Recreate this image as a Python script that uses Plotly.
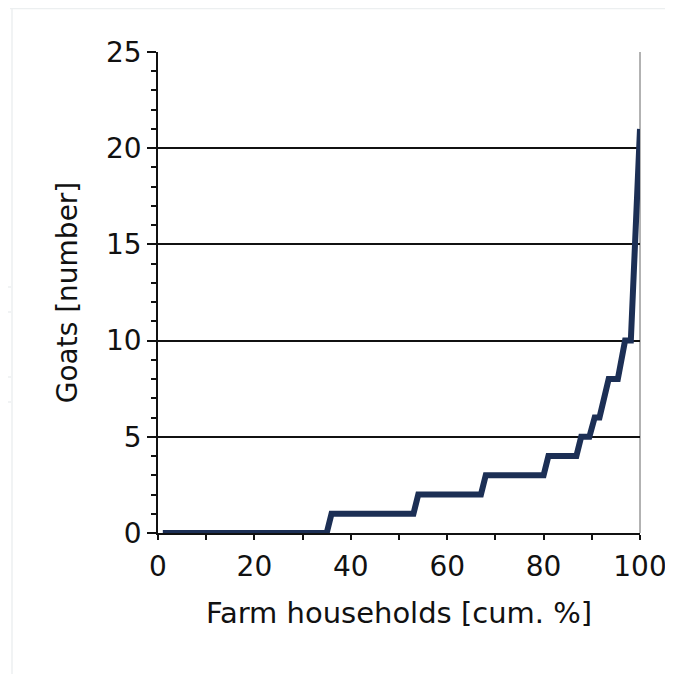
import plotly.graph_objects as go

households_cum_pct = [1, 35, 36, 53, 54, 67, 68, 80, 81, 86.8, 87.8, 89.5, 90.6, 91.6, 93.5, 95.4, 96.9, 98.1, 100]
goats = [0, 0, 1, 1, 2, 2, 3, 3, 4, 4, 5, 5, 6, 6, 8, 8, 10, 10, 21]

W, H = 673, 674
L, T = 150, 44
pw, ph = 482, 481
R, B = W - L - pw, H - T - ph

def px(p):
    return (p - L) / pw

def py(p):
    return 1 - (p - T) / ph

fig = go.Figure()
fig.add_trace(go.Scatter(
    x=households_cum_pct, y=goats, mode="lines",
    line=dict(color="#1c2f55", width=6),
    hoverinfo="x+y", showlegend=False,
))

font = "DejaVu Sans, Verdana, sans-serif"
shapes = []
bg = "#eceff0"
shapes.append(dict(type="line", xref="paper", yref="paper", x0=px(2), x1=px(673), y0=py(0.5), y1=py(0.5), line=dict(color=bg, width=1.5)))
shapes.append(dict(type="line", xref="paper", yref="paper", x0=px(4), x1=px(4), y0=py(0), y1=py(674), line=dict(color=bg, width=1.5)))
shapes.append(dict(type="line", xref="paper", yref="paper", x0=px(660), x1=px(660), y0=py(0), y1=py(674), line=dict(color=bg, width=1.5)))
for yy in [279, 304, 369, 394]:
    shapes.append(dict(type="line", xref="paper", yref="paper", x0=px(0), x1=px(3), y0=py(yy), y1=py(yy), line=dict(color=bg, width=1.5)))
# right frame line
shapes.append(dict(type="line", xref="paper", yref="paper", x0=1, x1=1, y0=0, y1=1, line=dict(color="#666666", width=1), layer="below"))

fig.update_layout(
    width=W, height=H,
    margin=dict(l=L, r=R, t=T, b=B),
    paper_bgcolor="white", plot_bgcolor="white",
    font=dict(family=font, size=28, color="#111111"),
    shapes=shapes,
    xaxis=dict(
        range=[0, 100], dtick=20, tick0=0,
        ticks="outside", ticklen=5, tickwidth=1.5, tickcolor="#111111",
        minor=dict(dtick=10, ticks="outside", ticklen=5, tickwidth=1.5, tickcolor="#111111", showgrid=False),
        showline=True, linecolor="#111111", linewidth=1.5,
        showgrid=False, zeroline=False,
        tickfont=dict(size=28), ticklabelstandoff=3,
        title=dict(text="Farm households [cum. %]", font=dict(size=29), standoff=20),
    ),
    yaxis=dict(
        range=[0, 25], dtick=5, tick0=0,
        ticks="outside", ticklen=9, tickwidth=1.5, tickcolor="#111111",
        minor=dict(dtick=1, ticks="outside", ticklen=5, tickwidth=1.5, tickcolor="#111111", showgrid=False),
        showline=True, linecolor="#111111", linewidth=1.5,
        showgrid=True, gridcolor="#111111", gridwidth=1.5, zeroline=False,
        tickfont=dict(size=28),
        title=dict(text="Goats [number]", font=dict(size=28), standoff=20),
    ),
)

fig.write_html("out.html")
